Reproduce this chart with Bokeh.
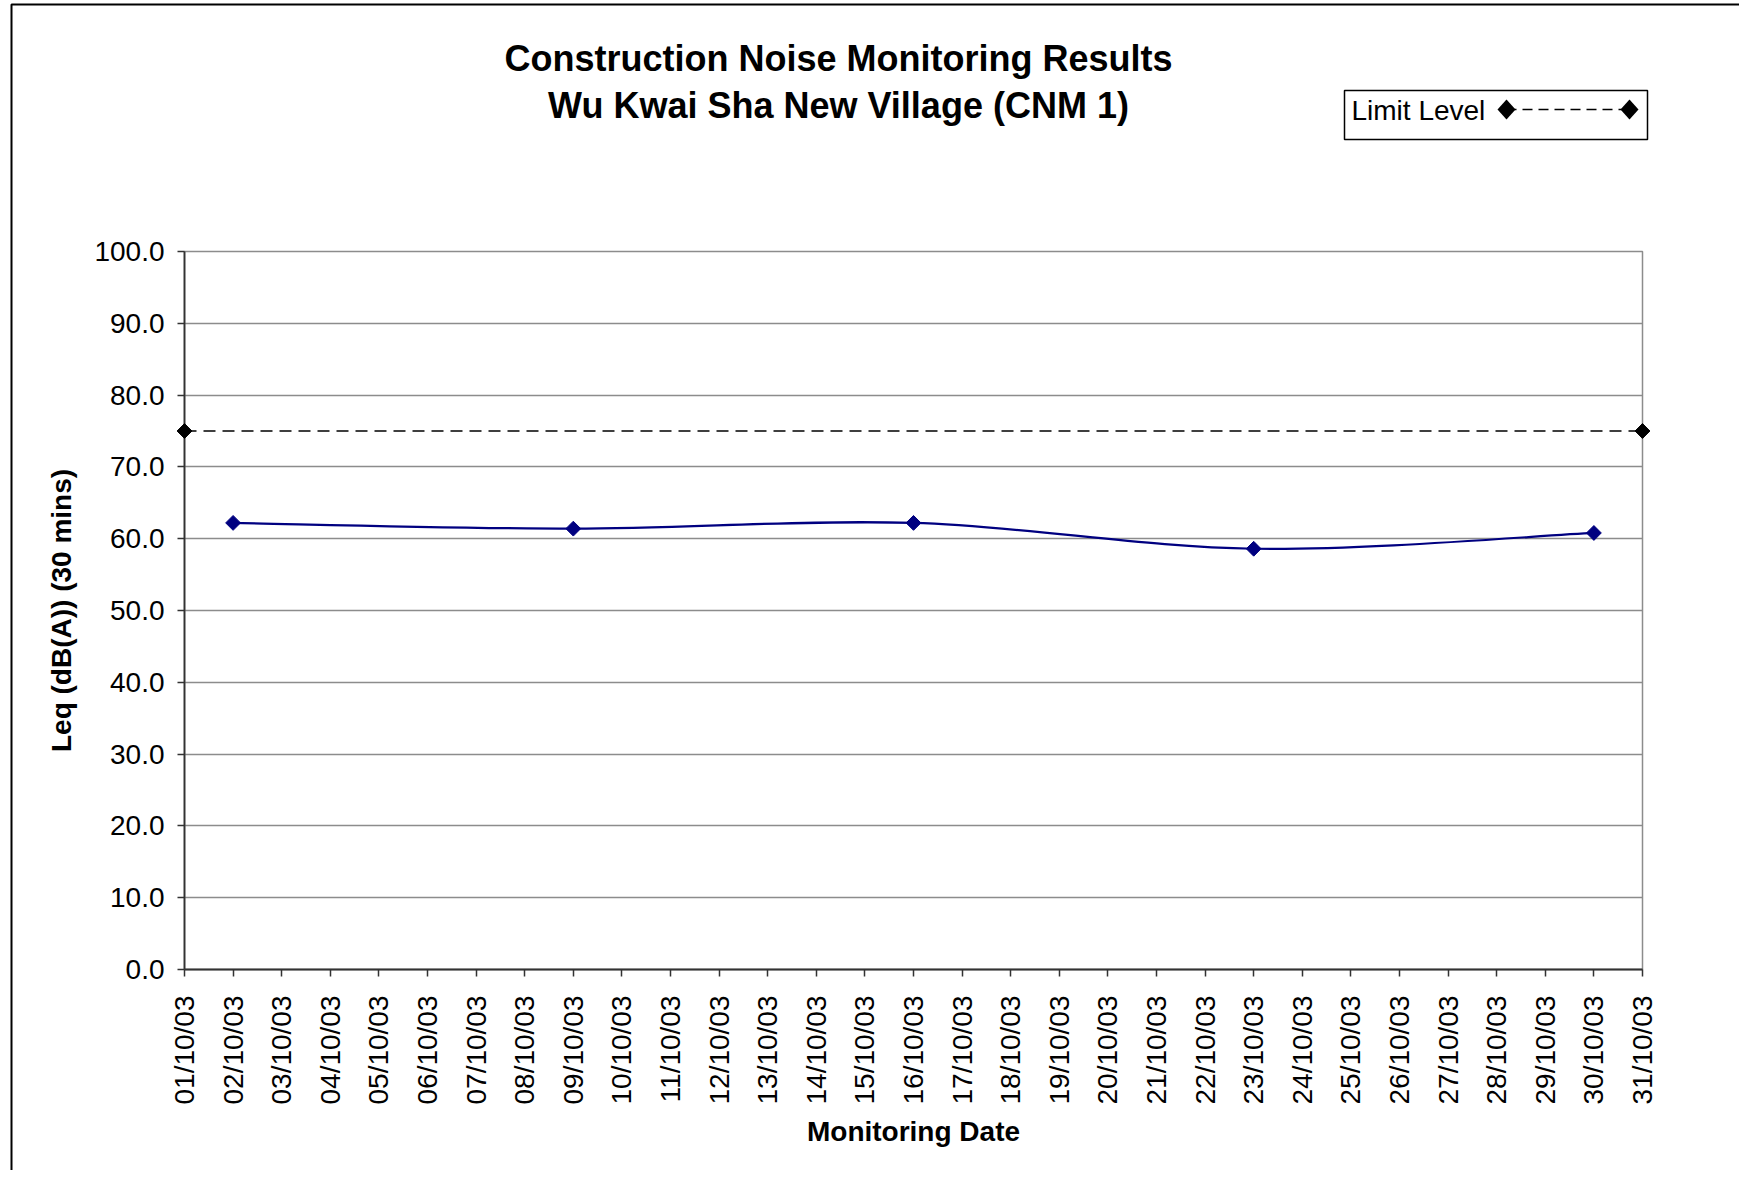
import math
from bokeh.plotting import figure
from bokeh.models import FixedTicker, PrintfTickFormatter, Range1d
from bokeh.embed import file_html
from bokeh.resources import INLINE
from bokeh.core.properties import value

# ---------------- data ----------------
TITLE_LINES = ["Construction Noise Monitoring Results", "Wu Kwai Sha New Village (CNM 1)"]
X_LABEL = "Monitoring Date"
Y_LABEL = "Leq (dB(A)) (30 mins)"
LEGEND_LABEL = "Limit Level"

DATE_LABELS = ["01/10/03", "02/10/03", "03/10/03", "04/10/03", "05/10/03", "06/10/03",
               "07/10/03", "08/10/03", "09/10/03", "10/10/03", "11/10/03", "12/10/03",
               "13/10/03", "14/10/03", "15/10/03", "16/10/03", "17/10/03", "18/10/03",
               "19/10/03", "20/10/03", "21/10/03", "22/10/03", "23/10/03", "24/10/03",
               "25/10/03", "26/10/03", "27/10/03", "28/10/03", "29/10/03", "30/10/03",
               "31/10/03"]
DAY_TICKS = [1, 2, 3, 4, 5, 6, 7, 8, 9, 10, 11, 12, 13, 14, 15, 16, 17, 18, 19, 20,
             21, 22, 23, 24, 25, 26, 27, 28, 29, 30, 31]
Y_TICKS = [0, 10, 20, 30, 40, 50, 60, 70, 80, 90, 100]

MEASURE_DAYS = [2, 9, 16, 23, 30]
LEQ = [62.2, 61.4, 62.2, 58.6, 60.8]

LIMIT_DAYS = [1, 31]
LIMIT_LEVEL = [75.0, 75.0]

# ---------------- layout / styling ----------------
FONT = "Liberation Sans"
NAVY = "#000080"
W, H = 1739, 1170
ML, MR, MT, MB = 184, 97, 251, 201
FW, FH = W - ML - MR, H - MT - MB          # frame size in pixels

p = figure(width=W, height=H, output_backend="svg", toolbar_location=None,
           x_range=Range1d(1, 31), y_range=Range1d(0, 100),
           min_border_left=ML, min_border_right=MR, min_border_top=MT,
           min_border_bottom=MB, background_fill_color="white",
           border_fill_color="white")
p.title.text = ""
p.outline_line_color = "#8c8c8c"
p.outline_line_width = 1.5
# pixel coordinate system (origin = frame bottom-left) for titles / legend decoration
p.extra_x_ranges = {"px": Range1d(0, FW)}
p.extra_y_ranges = {"px": Range1d(0, FH)}

# grid
p.xgrid.visible = False
p.ygrid.ticker = FixedTicker(ticks=Y_TICKS)
p.ygrid.grid_line_color = "#8c8c8c"
p.ygrid.grid_line_width = 1.3

# axes
for ax in (p.xaxis[0], p.yaxis[0]):
    ax.axis_line_color = "#333333"
    ax.axis_line_width = 1.8
    ax.major_tick_line_color = "#333333"
    ax.major_tick_line_width = 1.5
    ax.major_tick_out = 7
    ax.major_tick_in = 0
    ax.minor_tick_out = 0
    ax.minor_tick_in = 0
    ax.major_label_text_font = FONT
    ax.major_label_text_font_size = "28px"
    ax.major_label_text_color = "black"
    ax.axis_label_text_font = FONT
    ax.axis_label_text_font_size = "28px"
    ax.axis_label_text_font_style = "bold"
    ax.axis_label_text_color = "black"

p.xaxis.ticker = FixedTicker(ticks=DAY_TICKS)
p.xaxis.major_label_overrides = {d: lab for d, lab in zip(DAY_TICKS, DATE_LABELS)}
p.xaxis.major_label_orientation = math.pi / 2
p.xaxis.major_label_standoff = 19
p.xaxis.axis_label = X_LABEL
p.xaxis.axis_label_standoff = 9

p.yaxis.ticker = FixedTicker(ticks=Y_TICKS)
p.yaxis.formatter = PrintfTickFormatter(format="%.1f")
p.yaxis.major_label_standoff = 13
p.yaxis.axis_label = Y_LABEL
p.yaxis.axis_label_standoff = 14


# ---------------- smoothed measurement line (Excel-style smoothing) ----------------
def smooth(xs, ys):
    n = len(xs)
    d = dict(x0=[], y0=[], x1=[], y1=[], cx0=[], cy0=[], cx1=[], cy1=[])
    for i in range(n - 1):
        ip = max(i - 1, 0)
        inx = min(i + 2, n - 1)
        d["x0"].append(xs[i]); d["y0"].append(ys[i])
        d["x1"].append(xs[i + 1]); d["y1"].append(ys[i + 1])
        d["cx0"].append(xs[i] + (xs[i + 1] - xs[ip]) / 6.0)
        d["cy0"].append(ys[i] + (ys[i + 1] - ys[ip]) / 6.0)
        d["cx1"].append(xs[i + 1] - (xs[inx] - xs[i]) / 6.0)
        d["cy1"].append(ys[i + 1] - (ys[inx] - ys[i]) / 6.0)
    return d


seg = smooth(MEASURE_DAYS, LEQ)
p.bezier(x0=seg["x0"], y0=seg["y0"], x1=seg["x1"], y1=seg["y1"],
         cx0=seg["cx0"], cy0=seg["cy0"], cx1=seg["cx1"], cy1=seg["cy1"],
         line_color=NAVY, line_width=2.2)
p.scatter(MEASURE_DAYS, LEQ, marker="square", angle=math.pi / 4, size=10.5,
          fill_color=NAVY, line_color=NAVY)

# limit level
p.line(LIMIT_DAYS, LIMIT_LEVEL, line_color="black", line_width=1.5, line_dash="12 7")
p.scatter(LIMIT_DAYS, LIMIT_LEVEL, marker="square", angle=math.pi / 4,
          size=10.5, fill_color="black", line_color="black", level="overlay")

# ---------------- titles (pixel coordinates relative to the plot frame) ----------------
TITLE_X = 654
TITLE_Y = [911, 864]
p.text(x=[TITLE_X, TITLE_X], y=TITLE_Y, text=TITLE_LINES,
       x_range_name="px", y_range_name="px", level="overlay",
       text_font=value(FONT), text_font_size="36px", text_font_style="bold",
       text_align="center", text_baseline="middle", text_color="black")

# ---------------- legend (label left, sample right) ----------------
LEG_BOX = dict(left=1160, right=1463, bottom=830, top=879)
LEG_TEXT_X, LEG_TEXT_Y = 1167, 859
LEG_SAMPLE_X = [1322, 1445]
LEG_SAMPLE_Y = [860, 860]
LEG_MARK_HW, LEG_MARK_HH = 9, 10     # half width / half height of legend diamonds (px)

p.quad(left=[LEG_BOX["left"]], right=[LEG_BOX["right"]], bottom=[LEG_BOX["bottom"]],
       top=[LEG_BOX["top"]], x_range_name="px", y_range_name="px", level="overlay",
       fill_color="white", line_color="black", line_width=1.5)
p.text(x=[LEG_TEXT_X], y=[LEG_TEXT_Y], text=[LEGEND_LABEL],
       x_range_name="px", y_range_name="px", level="overlay",
       text_font=value(FONT), text_font_size="28px", text_align="left",
       text_baseline="middle", text_color="black")
p.line(LEG_SAMPLE_X, LEG_SAMPLE_Y, x_range_name="px", y_range_name="px",
       level="overlay", line_color="black", line_width=1.5, line_dash="10 6")
for cx, cy in zip(LEG_SAMPLE_X, LEG_SAMPLE_Y):
    p.varea(x=[cx - LEG_MARK_HW, cx, cx + LEG_MARK_HW],
            y1=[cy, cy - LEG_MARK_HH, cy], y2=[cy, cy + LEG_MARK_HH, cy],
            x_range_name="px", y_range_name="px", level="overlay",
            fill_color="black")

# ---------------- outer chart-area border ----------------
p.quad(left=[11 - ML], right=[3000], bottom=[-3000], top=[FH + MT - 4],
       x_range_name="px", y_range_name="px", level="overlay",
       fill_alpha=0, line_color="black", line_width=2)

open("out.html", "w").write(file_html(p, INLINE))
